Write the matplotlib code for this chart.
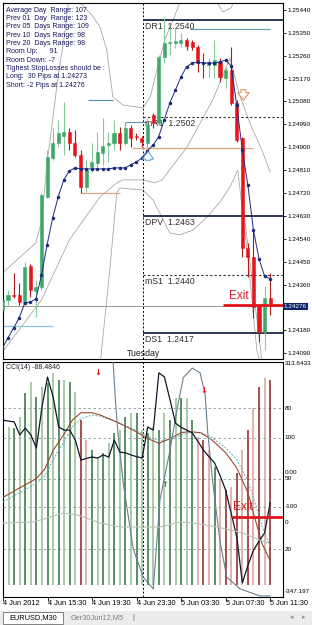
import numpy as np
import matplotlib.pyplot as plt
from matplotlib.patches import Rectangle

plt.rcParams['font.family'] = ['Liberation Sans', 'DejaVu Sans']

# EURUSD M30, 4 Jun 2012 11:30 .. 5 Jun 2012 11:30 (bar index 0..48)
opens = [1.24261, 1.24300, 1.24320, 1.24320, 1.24288, 1.24434, 1.24335, 1.24351, 1.24705, 1.24858,
         1.24917, 1.24945, 1.24960, 1.24917, 1.24870, 1.24744, 1.24823, 1.24838, 1.24878, 1.24909,
         1.24917, 1.24956, 1.24917, 1.24976, 1.24945, 1.24937, 1.24917, 1.25027, 1.24996, 1.25255,
         1.25310, 1.25310, 1.25310, 1.25322, 1.25314, 1.25294, 1.25235, 1.25224, 1.25224, 1.25235,
         1.25172, 1.25204, 1.25074, 1.24937, 1.24504, 1.24469, 1.24280, 1.24174, 1.24308]
highs = [1.24359, 1.24339, 1.24406, 1.24367, 1.24449, 1.24441, 1.24379, 1.24721, 1.24890, 1.24976,
         1.25007, 1.25078, 1.24976, 1.24968, 1.24890, 1.24850, 1.24917, 1.24960, 1.25015, 1.24960,
         1.25007, 1.24980, 1.24988, 1.24988, 1.24956, 1.24945, 1.25015, 1.25035, 1.25263, 1.25412,
         1.25369, 1.25369, 1.25349, 1.25330, 1.25322, 1.25302, 1.25271, 1.25251, 1.25322, 1.25251,
         1.25216, 1.25294, 1.25086, 1.24941, 1.24524, 1.24575, 1.24280, 1.24355, 1.24406]
lows = [1.24253, 1.24280, 1.24308, 1.24280, 1.24280, 1.24312, 1.24233, 1.24339, 1.24701, 1.24850,
        1.24901, 1.24870, 1.24890, 1.24862, 1.24721, 1.24724, 1.24803, 1.24819, 1.24831, 1.24842,
        1.24890, 1.24890, 1.24909, 1.24901, 1.24929, 1.24901, 1.24897, 1.24976, 1.24988, 1.25231,
        1.25263, 1.25290, 1.25294, 1.25283, 1.25283, 1.25196, 1.25172, 1.25176, 1.25172, 1.25157,
        1.25133, 1.25066, 1.24921, 1.24469, 1.24390, 1.24229, 1.24135, 1.24104, 1.24241]
closes = [1.24300, 1.24320, 1.24316, 1.24292, 1.24430, 1.24339, 1.24351, 1.24713, 1.24862, 1.24917,
          1.24956, 1.24960, 1.24917, 1.24870, 1.24744, 1.24811, 1.24842, 1.24882, 1.24905, 1.24917,
          1.24956, 1.24917, 1.24976, 1.24937, 1.24941, 1.24921, 1.24988, 1.24996, 1.25255, 1.25310,
          1.25314, 1.25318, 1.25322, 1.25298, 1.25294, 1.25231, 1.25231, 1.25235, 1.25243, 1.25176,
          1.25204, 1.25074, 1.24929, 1.24504, 1.24469, 1.24272, 1.24174, 1.24308, 1.24276]

# dotted moving average
ma = [1.24111, 1.24151, 1.24190, 1.24229, 1.24288, 1.24292, 1.24304, 1.24398, 1.24516, 1.24622,
      1.24705, 1.24772, 1.24807, 1.24819, 1.24815, 1.24815, 1.24815, 1.24815, 1.24815, 1.24815,
      1.24819, 1.24819, 1.24819, 1.24831, 1.24842, 1.24858, 1.24886, 1.24909, 1.24941, 1.25007,
      1.25074, 1.25125, 1.25176, 1.25216, 1.25231, 1.25235, 1.25231, 1.25231, 1.25231, 1.25235,
      1.25243, 1.25220, 1.25066, 1.24890, 1.24752, 1.24575, 1.24461, 1.24394, 1.24383]

# bands (gray lines), read at points
bb_up_x = [0, 4, 6, 7, 8, 9, 10, 11, 12, 13, 14, 16, 17.5, 18.7, 19.8, 21.6, 25.2, 26.5, 27.7, 29.1,
           30.6, 32, 33, 37, 38.2, 39.5, 41, 42.5, 48]
bb_up = [1.24406, 1.24485, 1.24524, 1.24607, 1.24838, 1.25007, 1.25184, 1.25322, 1.25499, 1.25510,
         1.25467, 1.25420, 1.25373, 1.25283, 1.25098, 1.25066, 1.25055, 1.25098, 1.25204, 1.25322,
         1.25400, 1.25479, 1.25518, 1.25518, 1.25479, 1.25432, 1.25448, 1.25518, 1.25600]
bb_mid_x = [0, 7, 12, 17.5, 20.5, 21.6, 25.2, 27.3, 28.6, 33.1, 37.7, 40.8, 42.5, 44.5, 46.5, 48]
bb_mid = [1.24096, 1.24300, 1.24536, 1.24705, 1.24760, 1.24772, 1.24772, 1.24760, 1.24772, 1.24901,
          1.25086, 1.25251, 1.25106, 1.24988, 1.24890, 1.24803]
bb_low_x = [17.5, 19.3, 20.5, 21, 25.2, 27, 28.8, 30, 31.8, 34.2, 36.7, 39, 40.8, 42.2, 43.1, 44,
            45.6, 46.3]
bb_low = [1.24044, 1.24430, 1.24721, 1.24740, 1.24732, 1.24693, 1.24615, 1.24563, 1.24556, 1.24575,
          1.24626, 1.24685, 1.24744, 1.24811, 1.24634, 1.24469, 1.24104, 1.24044]
bb_low2_x = [43, 44.7, 46.5]
bb_low2 = [1.24693, 1.24390, 1.24064]

# pivot levels
level_names = ['DR1', 'mR1', 'DPV', 'mS1', 'DS1']
level_prices = [1.2540, 1.2502, 1.2463, 1.2440, 1.2417]
level_solid = [True, False, True, False, True]

price_ticks = [1.25440, 1.25350, 1.25260, 1.25170, 1.25080, 1.24990, 1.24900, 1.24810,
               1.24720, 1.24630, 1.24540, 1.24450, 1.24360, 1.24180, 1.24090]
last_price = 1.24276
exit_price = 1.24280

info_lines = ['Average Day  Range: 107', 'Prev 01  Day  Range: 123', 'Prev 05  Days Range: 109',
              'Prev 10  Days Range: 98', 'Prev 20  Days Range: 98', 'Room Up:      91',
              'Room Down: -7', 'Tighest StopLosses should be :', 'Long:  30 Pips at 1.24273',
              'Short: -2 Pips at 1.24276']

# lower window
cci = [151, 148, 146, 108, 128, 108, 70, 189, 276, 218, 131, 122, 122, 93, 35, 40, 44, 41, 50, 44,
       93, 58, 56, 50, 45, 41, 131, 122, 288, 276, 210, 142, 130, 122, 114, 90, 64, 45, 27, -10,
       -52, -120, -188, -321, -270, -226, -200, -176, -88.5]
hist = [69.8, 71.9, 71.5, 76.2, 86.4, 91.1, 84.7, 88.9, 90.6, 94.9,
        91.9, 91.9, 91.1, 86.8, 74.9, 66.4, 62.1, 59.1, 60.9, 65.1,
        69.4, 70.6, 76.2, 77.9, 77.9, 70.6, 69.4, 71.9, 70.6, 77.9,
        74.9, 84.3, 84.3, 84.3, 74.9, 67.7, 66.4, 62.1, 54.9, 49.4,
        45.1, 46.4, 52.3, 62.1, 70.6, 80.0, 88.9, 92.8, 91.9]
hist_dir = 'G' * 14 + 'RR' + 'G' * 19 + 'RRR' + 'G' + 'R' * 10
osc_x = [0, 3, 6, 7.5, 9, 11, 12.5, 14, 16, 17.5, 20.5, 23.5, 26, 28, 30, 32, 33.5, 35.5, 37.5, 40,
         42, 44, 45.5, 46.5, 48]
osc_main = [42, 46, 50, 54, 62, 69, 75, 78, 78, 77, 74, 70.5, 67, 65, 67, 69.5, 70, 69.5, 66.5, 61,
            54.5, 44, 31, 22.5, 15]
osc_signal = [40, 44, 48, 51, 58, 66, 72, 75.5, 77, 76.5, 74, 71, 68, 66, 66.5, 68.5, 69.5, 69.5,
              67.5, 63, 58, 49, 38, 30, 21]
fast_x = [19, 19.8, 20.2, 20.7, 21.6, 23.4, 25.2, 27, 28.2, 30, 31.3, 32.4, 34, 35.4, 36.3, 36.8,
          37.7, 39, 40.2, 42.6, 46.2, 48]
fast = [110, 99, 83, 68, 48, 20, 8, 3, 41, 62, 80, 93, 97, 95, 86, 69, 48, 23, 8, 3, 0, 0]
slow_x = [0, 5.5, 10.9, 13.4, 17.5, 21, 28.2, 31.8, 34.2, 38.5, 43.1, 47.4]
slow = [0, 1, 10, 8, 0, -4, -4, 1, 0, -4, -10, -20]

time_idx = [0, 8, 16, 24, 32, 40, 48]
time_labels = ['4 Jun 2012', '4 Jun 15:30', '4 Jun 19:30', '4 Jun 23:30',
               '5 Jun 03:30', '5 Jun 07:30', '5 Jun 11:30']

W, H = 312.0, 625.0
def rect(x0, y0, x1, y1):
    return [x0 / W, 1 - y1 / H, (x1 - x0) / W, (y1 - y0) / H]

fig = plt.figure(figsize=(3.12, 6.25), dpi=100)
ax = fig.add_axes(rect(3, 3, 283, 359))
ax2 = fig.add_axes(rect(3, 362, 283, 597))
fs = 5.3
rfs = 4.6   # right-hand scale labels
day_sep = 25.2
xl = (0.1, 50.3)

# ---------------- main chart ----------------
ax.set_xlim(*xl)
ax.set_ylim(1.24068, 1.25467)
gray = '#a9a9a9'
ax.plot(bb_up_x, bb_up, color=gray, lw=0.6, zorder=2)
ax.plot(bb_mid_x, bb_mid, color=gray, lw=0.6, zorder=2)
ax.plot(bb_low_x, bb_low, color=gray, lw=0.6, zorder=2)
ax.plot(bb_low2_x, bb_low2, color=gray, lw=0.6, zorder=2)

for name, p, solid in zip(level_names, level_prices, level_solid):
    if solid:
        ax.hlines(p, day_sep, xl[1], color='#1c2648', lw=1.3, zorder=2.5)
    else:
        ax.hlines(p, day_sep, xl[1], color='#303030', lw=0.8, linestyles=(0, (2, 2)), zorder=2.5)
    ax.annotate(f'{name}  {p:.4f}', (day_sep + 0.3, p), xytext=(0, -1.5), textcoords='offset points',
                va='top', ha='left', fontsize=6.3, color='#303030', zorder=2.6)

ax.hlines(1.25365, 33.6, 48, color='#5f9eaa', lw=0.8, zorder=2.5)
ax.hlines(1.25086, 15.4, 19.8, color='#4f8fa8', lw=0.8, zorder=2.5)
ax.hlines(1.24999, 22, 26, color='#6f90b0', lw=0.8, zorder=2.5)
ax.vlines(22, 1.24937, 1.24999, color='#6f90b0', lw=0.8, zorder=2.5)
ax.hlines(1.24198, 0, 9, color='#8ec5e0', lw=0.9, zorder=2.5)
ax.hlines(1.24721, 14, 21, color='#e0a57a', lw=0.9, zorder=2.5)
ax.hlines(1.24897, 23.2, 45, color='#e0a57a', lw=0.9, zorder=2.5)
ax.axhline(last_price, color='#9a9a9a', lw=0.7, zorder=2.4)
ax.axvline(day_sep, color='black', lw=0.7, ls=(0, (2, 2)), zorder=2.4)

idx = np.arange(len(closes))
o = np.array(opens); c = np.array(closes); h = np.array(highs); l = np.array(lows)
up = c >= o
ax.vlines(idx[up], l[up], h[up], color='#88c99c', lw=0.8, zorder=3)
ax.vlines(idx[~up], l[~up], h[~up], color='#b01c1c', lw=0.8, zorder=3)
ax.bar(idx[up], (c - o)[up], 0.55, bottom=o[up], color='#3fa868', edgecolor='#3fa868', lw=0.4, zorder=4)
ax.bar(idx[~up], (o - c)[~up], 0.55, bottom=c[~up], color='#e8161c', edgecolor='#e8161c', lw=0.4, zorder=4)

ax.plot(idx, ma, color='#1c2c7c', lw=0.7, marker='o', ms=1.5, zorder=5)

ax.annotate('', xy=(26.1, 1.24894), xytext=(26.1, 1.24838),
            arrowprops=dict(arrowstyle='simple,head_width=0.9,head_length=0.6,tail_width=0.4',
                            fc='white', ec='#5a9fd6', lw=0.7, mutation_scale=9), zorder=6)
ax.annotate('', xy=(43.2, 1.25074), xytext=(43.2, 1.25137),
            arrowprops=dict(arrowstyle='simple,head_width=0.9,head_length=0.6,tail_width=0.4',
                            fc='white', ec='#e0854a', lw=0.7, mutation_scale=9), zorder=6)

ax.hlines(exit_price, 39.5, xl[1], color='#e0161c', lw=2.0, zorder=6)
ax.text(40.6, 1.24314, 'Exit', color='#d42020', fontsize=8.5, va='center', ha='left', zorder=6)
ax.text(day_sep, 1.24070, 'Tuesday', fontsize=6.3, ha='center', va='bottom', color='#202020', zorder=6)

ax.yaxis.tick_right()
ax.set_yticks(price_ticks)
ax.set_yticklabels([f'{p:.5f}' for p in price_ticks])
ax.tick_params(axis='y', length=2, width=0.6, labelsize=rfs, pad=1.5)
ax.set_xticks([])
ax.text(1.003, last_price, f'{last_price:.5f}', transform=ax.get_yaxis_transform(), fontsize=rfs,
        color='white', va='center', ha='left',
        bbox=dict(boxstyle='square,pad=0.15', fc='#0a246a', ec='none'))
for s in ax.spines.values():
    s.set_linewidth(0.8)

for k, line in enumerate(info_lines):
    fig.text(6 / W, 1 - (10 + k * 8.35) / H, line, fontsize=5.0, color='#14145a', va='center', ha='left')

# ---------------- indicator window ----------------
ax2.set_xlim(*xl)
ax2.set_ylim(-0.43, 99.6)
for v in [80, 50, 20]:
    ax2.axhline(v, color='#8a9a9a', lw=0.6, ls=(0, (3, 3)), zorder=1)
hist_colors = []
for i, d in enumerate(hist_dir):
    if d == 'G':
        hist_colors.append('#2f6f3a' if i % 2 == 0 else '#8fbf8f')
    else:
        hist_colors.append('#8b2020' if i % 2 == 0 else '#d9a19a')
ax2.vlines(idx, 4.7, hist, colors=hist_colors, lw=1.1, zorder=2)
ax2.plot(osc_x, osc_signal, color='#5fb0b0', lw=0.7, ls=(0, (2, 1.5)), zorder=3)
ax2.plot(osc_x, osc_main, color='#9a4a30', lw=0.8, zorder=3)
ax2.plot(fast_x, fast, color='#6a8090', lw=0.8, zorder=3)
ax2.axvline(day_sep, color='black', lw=0.7, ls=(0, (2, 2)), zorder=1)
ax2.set_yticks([])
ax2.set_xticks(time_idx)
ax2.set_xticklabels([])
ax2.tick_params(axis='x', direction='out', length=3, width=0.6)
for s in ax2.spines.values():
    s.set_linewidth(0.8)
for ti, tl in zip(time_idx, time_labels):
    ax2.text(ti, -0.026, tl, transform=ax2.get_xaxis_transform(), fontsize=fs, va='center', ha='left',
             clip_on=False)
for v in [80, 50, 20]:
    ax2.text(1.006, v, str(v), transform=ax2.get_yaxis_transform(), fontsize=rfs, va='center', ha='left')

ax2b = ax2.twinx()
ax2b.set_ylim(-361.8, 319.4)
for v in [100, -100]:
    ax2b.axhline(v, color='#8a9a9a', lw=0.6, ls=(0, (3, 3)), zorder=1)
ax2b.plot(idx, cci, color='#101828', lw=0.9, zorder=4)
ax2b.text(17, 290, '↓', color='#e01010', fontsize=6, fontweight='bold', ha='center', va='center',
          family='DejaVu Sans')
ax2b.text(36, 238, '↓', color='#e01010', fontsize=6, fontweight='bold', ha='center', va='center',
          family='DejaVu Sans')
ax2b.text(29, -37, '↑', color='#20a040', fontsize=6, fontweight='bold', ha='center', va='center',
          family='DejaVu Sans')
ax2b.hlines(-130, 41.2, xl[1], color='#e0161c', lw=2.0, zorder=5)
ax2b.text(41.4, -100, 'Exit', color='#d42020', fontsize=8.5, va='center', ha='left', zorder=5)
ax2b.set_yticks([])
for v, s in [(313.6433, '313.6433'), (100, '100'), (0, '0.00'), (-100, '-100'), (-347.197, '-347.197')]:
    ax2b.text(1.006, v, s, transform=ax2b.get_yaxis_transform(), fontsize=rfs, va='center', ha='left')
ax2b.text(0.01, 0.975, 'CCI(14) -88.4846', transform=ax2b.transAxes, fontsize=5.0, va='center',
          ha='left', color='#202030')

ax2c = ax2.twinx()
ax2c.set_ylim(-74, 161)
ax2c.plot(slow_x, slow, color='#b8c2b0', lw=0.8, zorder=2)
ax2c.set_yticks([])
ax2c.text(1.006, 0, '0', transform=ax2c.get_yaxis_transform(), fontsize=rfs, va='center', ha='left')
for a in (ax2b, ax2c):
    for s in a.spines.values():
        s.set_visible(False)

# ---------------- tab bar ----------------
fig.add_artist(Rectangle((0, 0), 1, 14 / H, transform=fig.transFigure, fc='#ececec', ec='none'))
fig.add_artist(Rectangle((3 / W, 1 / H), 60 / W, 12.5 / H, transform=fig.transFigure, fc='white',
                         ec='#707070', lw=0.6))
fig.text(33 / W, 7.5 / H, 'EURUSD,M30', fontsize=fs, ha='center', va='center')
fig.text(97 / W, 7.5 / H, 'Ger30Jun12,M5', fontsize=fs, ha='center', va='center', color='#808080')
fig.text(133 / W, 7.5 / H, '|', fontsize=fs, ha='center', va='center', color='#606060')
fig.text(292 / W, 7.5 / H, '◂', fontsize=5, ha='center', va='center', color='#909090',
         family='DejaVu Sans')
fig.text(304 / W, 7.5 / H, '▸', fontsize=5, ha='center', va='center', color='#909090',
         family='DejaVu Sans')

fig.savefig('out.png', dpi=100)
